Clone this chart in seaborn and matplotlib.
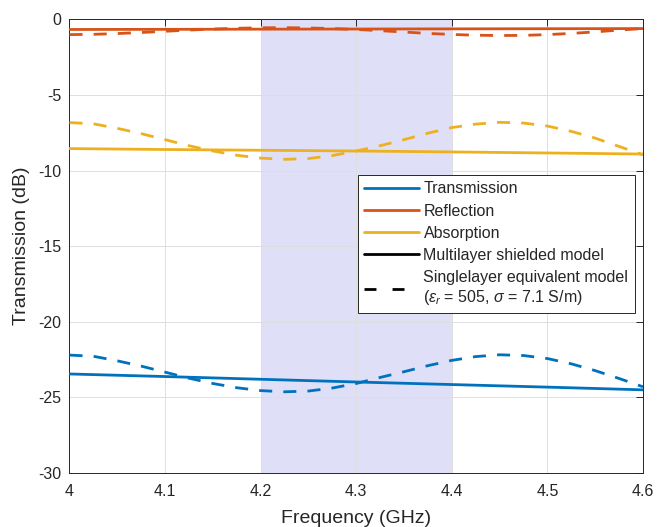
import numpy as np
import pandas as pd
import matplotlib
matplotlib.use("Agg")
import matplotlib.pyplot as plt
import seaborn as sns
from matplotlib.lines import Line2D
from matplotlib.ticker import FuncFormatter

# ---- data ----
freq_fine = [4.000, 4.025, 4.050, 4.075, 4.100, 4.125, 4.150, 4.175, 4.200,
             4.225, 4.250, 4.275, 4.300, 4.325, 4.350, 4.375, 4.400, 4.425,
             4.450, 4.475, 4.500, 4.525, 4.550, 4.575, 4.600]
trans_single = [-22.20, -22.28, -22.58, -22.93, -23.33, -23.73, -24.08, -24.36, -24.55,
                -24.63, -24.58, -24.38, -24.08, -23.68, -23.30, -22.90, -22.55, -22.30,
                -22.18, -22.23, -22.43, -22.78, -23.23, -23.75, -24.30]
refl_single = [-1.00, -0.98, -0.93, -0.86, -0.78, -0.70, -0.63, -0.58, -0.55,
               -0.54, -0.56, -0.60, -0.66, -0.74, -0.83, -0.92, -0.99, -1.04,
               -1.06, -1.05, -1.00, -0.92, -0.82, -0.70, -0.60]
abs_single = [-6.82, -6.90, -7.20, -7.55, -7.95, -8.35, -8.70, -8.98, -9.17,
              -9.25, -9.20, -9.00, -8.70, -8.35, -7.95, -7.52, -7.15, -6.92,
              -6.80, -6.85, -7.05, -7.40, -7.85, -8.40, -8.95]

freq_coarse = [4.0, 4.1, 4.2, 4.3, 4.4, 4.5, 4.6]
trans_multi = [-23.45, -23.62, -23.80, -23.98, -24.15, -24.32, -24.50]
refl_multi = [-0.66, -0.65, -0.64, -0.63, -0.62, -0.61, -0.60]
abs_multi = [-8.54, -8.60, -8.65, -8.70, -8.76, -8.83, -8.90]

band = [4.2, 4.4]
xticks = [4.0, 4.1, 4.2, 4.3, 4.4, 4.5, 4.6]
yticks = [-30, -25, -20, -15, -10, -5, 0]

labels = ["Transmission", "Reflection", "Absorption",
          "Multilayer shielded model",
          "Singlelayer equivalent model\n($\\epsilon_r$ = 505, $\\sigma$ = 7.1 S/m)"]

# ---- style ----
sns.set_theme(style="white")
plt.rcParams["font.family"] = ["Liberation Sans", "DejaVu Sans"]
plt.rcParams["axes.unicode_minus"] = False
plt.rcParams["mathtext.fontset"] = "custom"
plt.rcParams["mathtext.rm"] = "Liberation Sans"
plt.rcParams["mathtext.it"] = "Liberation Sans:italic"

c_blue = "#0072BD"
c_red = "#D95319"
c_yel = "#EDB120"
lw = 2.0
dash = (4.7, 4.0)

fig = plt.figure(figsize=(6.6, 5.27), dpi=100)
ax = fig.add_axes([0.1053, 0.1025, 0.869, 0.8605])

ax.axvspan(band[0], band[1], facecolor="#dfdff7", edgecolor="none", zorder=0.3)

fine = pd.DataFrame({"f": freq_fine, "T": trans_single, "R": refl_single, "A": abs_single})
coarse = pd.DataFrame({"f": freq_coarse, "T": trans_multi, "R": refl_multi, "A": abs_multi})

for col, c in (("T", c_blue), ("R", c_red), ("A", c_yel)):
    sns.lineplot(data=coarse, x="f", y=col, color=c, linewidth=lw, ax=ax, zorder=3)
    sns.lineplot(data=fine, x="f", y=col, color=c, linewidth=lw, ax=ax,
                 dashes=False, zorder=3, linestyle=(0, dash))

ax.set_xlim(4.0, 4.6)
ax.set_ylim(-30, 0)
ax.set_xticks(xticks)
ax.set_yticks(yticks)
ax.xaxis.set_major_formatter(FuncFormatter(lambda v, p: f"{v:g}"))
ax.yaxis.set_major_formatter(FuncFormatter(lambda v, p: f"{v:g}"))
ax.grid(True, color="#dedede", linewidth=0.7)
ax.set_axisbelow(True)
ax.tick_params(direction="in", top=True, right=True, length=5, width=0.7,
               colors="#262626", labelsize=11.5)
ax.tick_params(axis="x", pad=8)
ax.tick_params(axis="y", pad=6)
for s in ax.spines.values():
    s.set_color("#262626")
    s.set_linewidth(0.7)
ax.set_xlabel("Frequency (GHz)", fontsize=14, color="#262626", labelpad=8)
ax.set_ylabel("Transmission (dB)", fontsize=14, color="#262626", labelpad=6)

handles = [Line2D([], [], color=c_blue, lw=lw),
           Line2D([], [], color=c_red, lw=lw),
           Line2D([], [], color=c_yel, lw=lw),
           Line2D([], [], color="black", lw=lw),
           Line2D([], [], color="black", lw=lw, linestyle=(0, (4.3, 5.8)))]
leg = ax.legend(handles, labels, loc="upper left", bbox_to_anchor=(0.503, 0.657),
                borderaxespad=0, fontsize=11.5, frameon=True, fancybox=False,
                framealpha=1, edgecolor="#262626", handlelength=3.4,
                handletextpad=0.3, labelspacing=0.45, borderpad=0.4)
leg.get_frame().set_linewidth(0.7)

fig.savefig("out.png", dpi=100)
